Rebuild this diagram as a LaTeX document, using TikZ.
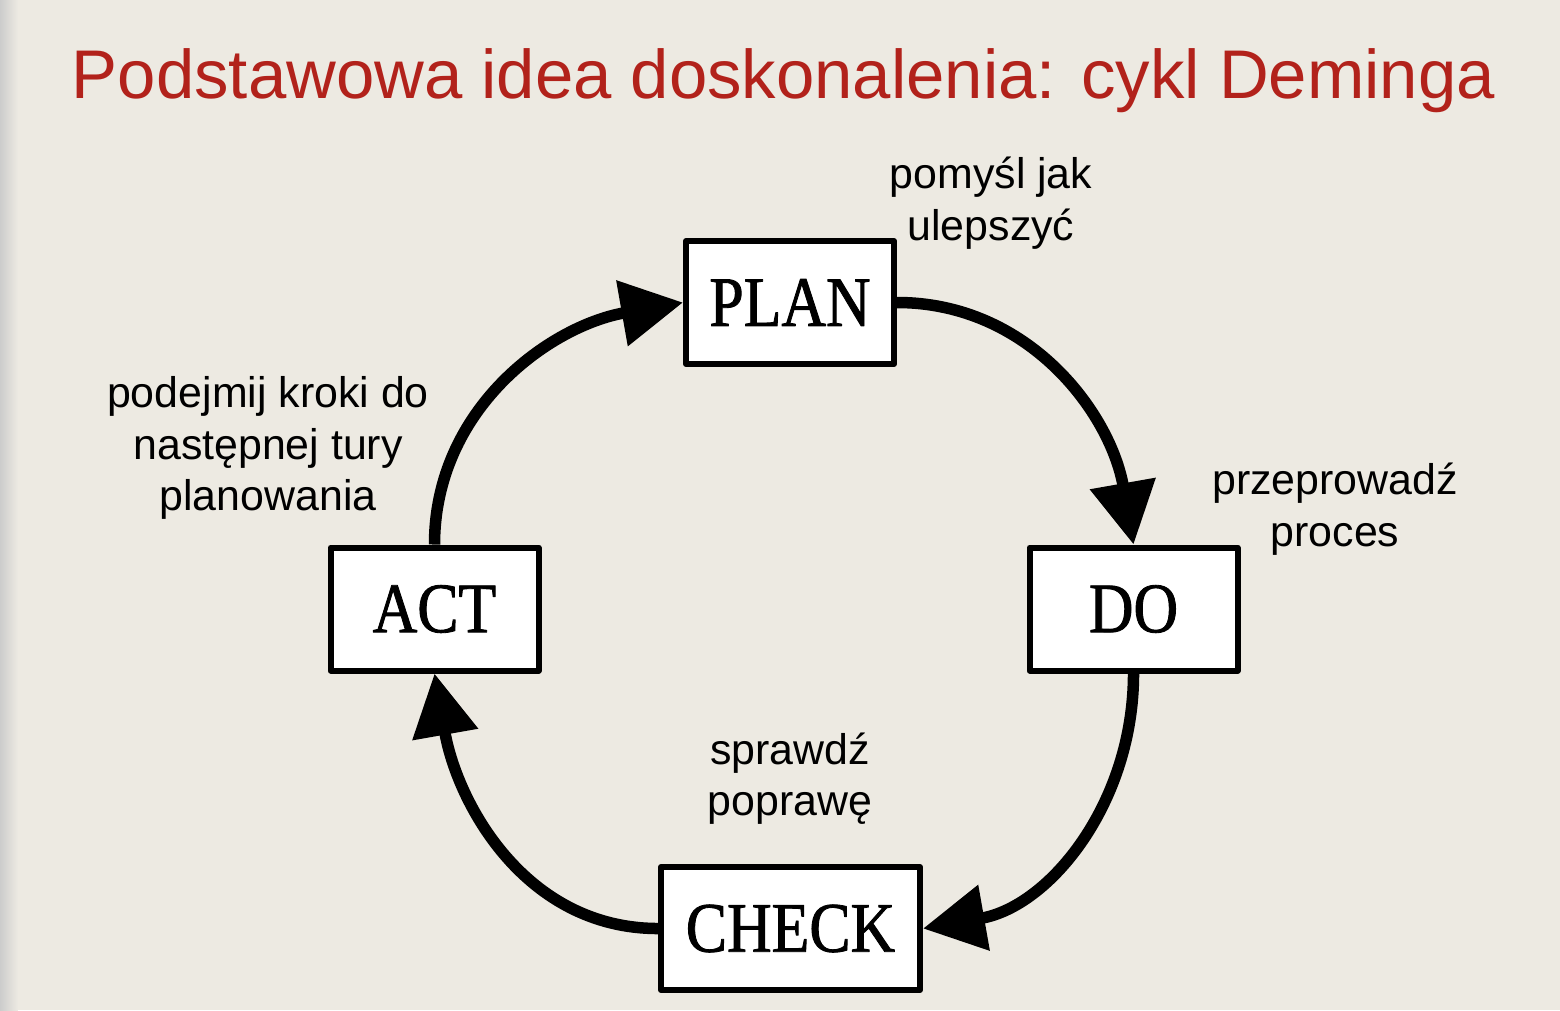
\documentclass[tikz,border=0pt]{standalone}
\usepackage{fontspec}
\setmainfont{Liberation Sans}
\newfontfamily\boxfont[FakeStretch=0.87, FakeBold=1.2]{Liberation Serif}
\usetikzlibrary{arrows.meta}
\definecolor{paper}{RGB}{237,234,226}
\definecolor{titlered}{RGB}{178,34,27}

\begin{document}
\begin{tikzpicture}[line join=round, >={Triangle[length=6.2mm,width=6.4mm]},
            stage/.style={draw, line width=0.6mm, fill=white, minimum width=20.8mm, minimum height=12.3mm, inner sep=0pt, font=\boxfont\fontsize{20.2}{24}\selectfont},
            note/.style={align=center, font=\fontsize{12.2}{14.6}\selectfont},
            cyc/.style={->, line width=1.15mm}]
            \fill[paper] (0,0) rectangle (15.6,-10.1) ;
            \useasboundingbox (0,0) rectangle (15.6,-10.1) ;
            \shade[left color=black!20, right color=paper] (0,0) rectangle (0.18,-10.1) ;
            \node[anchor=base, text=titlered, font=\fontsize{19.6}{23}\selectfont] (title) at (7.835,-0.98) {Podstawowa idea doskonalenia: cykl Deminga} ;
            % the four stages
            \node[stage] (plan) at (7.90,-3.025) {PLAN} ;
            \node[stage] (do) at (11.335,-6.09) {DO} ;
            \node[stage, minimum width=25.9mm] (check) at (7.905,-9.285) {CHECK} ;
            \node[stage] (act) at (4.345,-6.09) {ACT} ;
            \node[note] (planNote) at (9.91,-2.03) {pomyśl jak\\ulepszyć} ;
            \node[note] (doNote) at (13.35,-5.09) {przeprowadź\\proces} ;
            \node[note] (checkNote) at (7.90,-7.79) {sprawdź\\poprawę} ;
            \node[note] (actNote) at (2.68,-4.48) {podejmij kroki do\\następnej tury\\planowania} ;
            \draw[cyc] (plan.east) to[out=0, in=100] (do.north) ;
            \draw[cyc] (do.south) to[out=-90, in=10] (check.east) ;
            \draw[cyc] (check.west) to[out=180, in=-80] (act.south) ;
            \draw[cyc] (act.north) to[out=90, in=190] (plan.west) ;
        \end{tikzpicture}
\end{document}
